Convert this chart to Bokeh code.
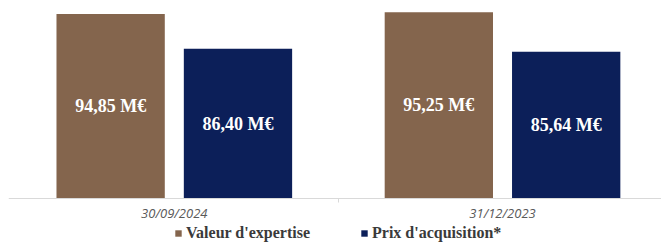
from bokeh.plotting import figure
from bokeh.models import Range1d, FixedTicker, Legend, LegendItem, ColumnDataSource
from bokeh.core.properties import value
from bokeh.embed import file_html
from bokeh.resources import INLINE

categories = ["30/09/2024", "31/12/2023"]
valeur_expertise = [94.85, 95.25]
prix_acquisition = [86.40, 85.64]
series_names = ["Valeur d'expertise", "Prix d'acquisition*"]

BROWN = "#84654D"
NAVY = "#0C1F59"
Y0 = 50

p = figure(frame_width=653, frame_height=236, output_backend="svg", toolbar_location=None,
           x_range=Range1d(-0.0052, 1.9844), y_range=Range1d(38.82, 96.18),
           min_border_left=8, min_border_right=0, min_border_top=8, min_border_bottom=0)
p.outline_line_color = None
p.background_fill_color = "white"
p.border_fill_color = "white"
p.xgrid.visible = False
p.ygrid.visible = False
p.yaxis.visible = False

centers = [i + 0.5 for i in range(len(categories))]
off = 0.194
w = 0.33

def fmt(v):
    return f"{v:.2f}".replace(".", ",") + " M€"

src1 = ColumnDataSource(dict(x=[c - off for c in centers], top=valeur_expertise,
                             ymid=[(Y0 + v) / 2 for v in valeur_expertise],
                             lab=[fmt(v) for v in valeur_expertise]))
src2 = ColumnDataSource(dict(x=[c + off for c in centers], top=prix_acquisition,
                             ymid=[(Y0 + v) / 2 for v in prix_acquisition],
                             lab=[fmt(v) for v in prix_acquisition]))

r1 = p.vbar(x="x", top="top", bottom=Y0, width=w, source=src1, fill_color=BROWN, line_color=None)
r2 = p.vbar(x="x", top="top", bottom=Y0, width=w, source=src2, fill_color=NAVY, line_color=None)

for s in (src1, src2):
    p.text(x="x", y="ymid", text="lab", source=s, text_color="white",
           text_font=value("Liberation Serif"), text_font_style="bold",
           text_font_size="18px", text_align="center", text_baseline="middle")

ax = p.xaxis[0]
ax.fixed_location = Y0
ax.ticker = FixedTicker(ticks=centers, minor_ticks=[1.0])
ax.major_label_overrides = {c: cat for c, cat in zip(centers, categories)}
ax.axis_line_color = "#D9D9D9"
ax.axis_line_width = 1
ax.major_tick_line_color = None
ax.major_tick_out = 0
ax.major_tick_in = 0
ax.minor_tick_line_color = "#D9D9D9"
ax.minor_tick_out = 4
ax.minor_tick_in = 0
ax.major_label_text_font = "Open Sans"
ax.major_label_text_font_style = "italic"
ax.major_label_text_font_size = "13px"
ax.major_label_text_color = "#595959"
ax.major_label_standoff = 1

legend = Legend(items=[LegendItem(label=series_names[0], renderers=[r1]),
                       LegendItem(label=series_names[1], renderers=[r2])],
                orientation="horizontal", location=(166, 2),
                label_text_font="Liberation Serif", label_text_font_style="bold",
                label_text_font_size="16px", label_text_color="#3A3A3A",
                glyph_width=8, glyph_height=8, label_standoff=4, spacing=50,
                margin=0, padding=0, border_line_color=None, background_fill_alpha=0,
                label_height=16)
p.add_layout(legend)

open("out.html", "w").write(file_html(p, INLINE))
